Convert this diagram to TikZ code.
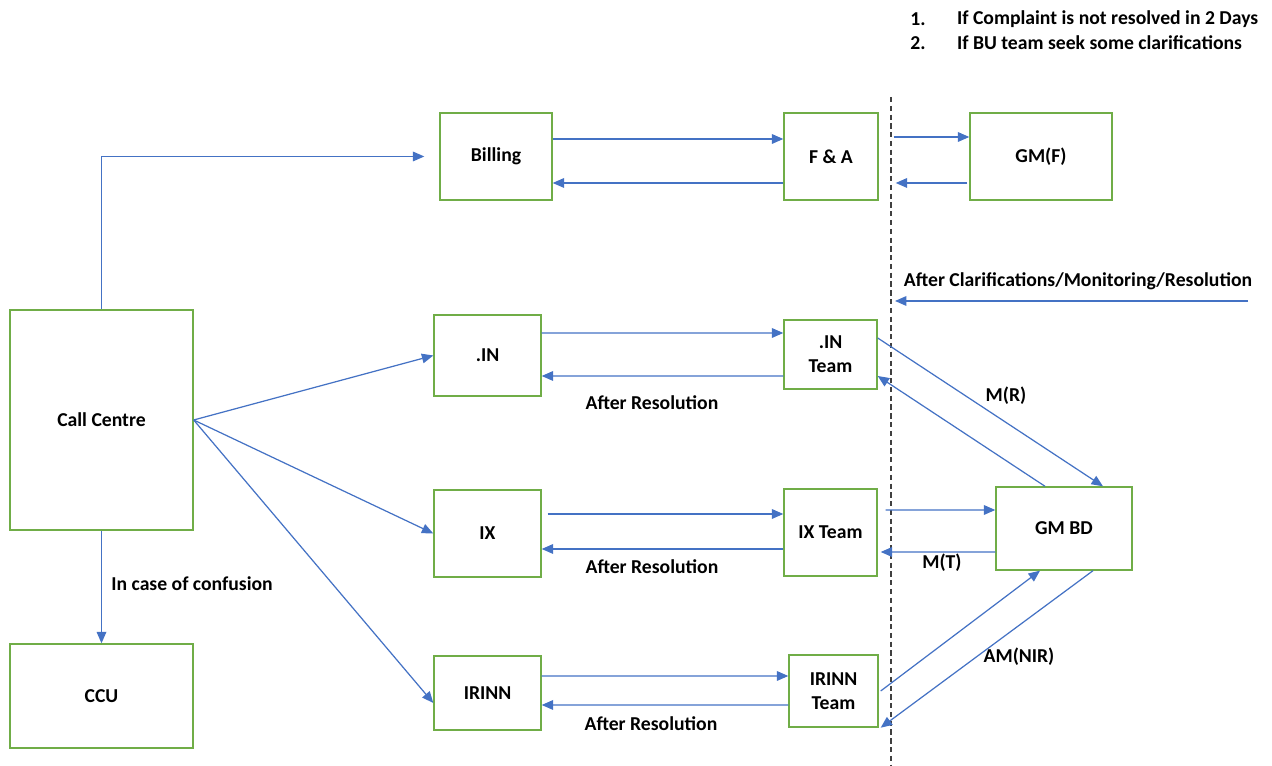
\documentclass[tikz,border=0pt]{standalone}
\usepackage{fontspec}
\setmainfont{Carlito}
\usetikzlibrary{arrows.meta,calc}
\definecolor{boxgreen}{RGB}{112,173,71}
\definecolor{flowblue}{RGB}{68,114,196}
\newcommand\diagfont{\fontsize{11.2}{13.6}\selectfont\bfseries}
\tikzset{
	unit/.style={draw=boxgreen, line width=0.8pt, font=\diagfont, align=center, inner sep=0pt},
	flow/.style={draw=flowblue, line width=0.7pt, -{Triangle[length=6.5pt,width=5.5pt]}},
	lbl/.style={font=\diagfont, inner sep=1pt}
}
\begin{document}
\begin{tikzpicture}[x=0.02cm, y=0.02cm]
			%%%%% START %%%%%
			\useasboundingbox (0, 0) rectangle (1272, 766);
			
			\node[unit, minimum width=3.66cm, minimum height=4.4cm] (cc) at (101.5, 346) {Call Centre};
			\node[unit, minimum width=3.66cm, minimum height=2.08cm] (ccu) at (101.5, 70) {CCU};
			
			\node[unit, minimum width=2.24cm, minimum height=1.74cm] (billing) at (496, 609.5) {Billing};
			\node[unit, minimum width=1.88cm, minimum height=1.74cm] (fa) at (831, 609.5) {F \& A};
			\node[unit, minimum width=2.84cm, minimum height=1.74cm] (gmf) at (1041, 609.5) {GM(F)};
			
			\node[unit, minimum width=2.14cm, minimum height=1.62cm] (in) at (487.5, 410.5) {.IN};
			\node[unit, minimum width=1.86cm, minimum height=1.38cm] (inteam) at (830.5, 411.5) {.IN\\Team};
			
			\node[unit, minimum width=2.14cm, minimum height=1.74cm] (ix) at (487.5, 232.5) {IX};
			\node[unit, minimum width=1.86cm, minimum height=1.74cm] (ixteam) at (830.5, 233.5) {IX Team};
			
			\node[unit, minimum width=2.14cm, minimum height=1.48cm] (irinn) at (487.5, 73) {IRINN};
			\node[unit, minimum width=1.78cm, minimum height=1.44cm] (irinnteam) at (833.5, 75) {IRINN\\Team};
			
			\node[unit, minimum width=2.72cm, minimum height=1.66cm] (gmbd) at (1064, 237.5) {GM BD};
			
			% note list
			\node[lbl] (n1) at (918, 747) {1.};
			\node[lbl, anchor=west] (t1) at (955, 747) {If Complaint is not resolved in 2 Days};
			\node[lbl] (n2) at (918, 723) {2.};
			\node[lbl, anchor=west] (t2) at (955, 723) {If BU team seek some clarifications};
			
			% boundary
			\draw[black!75, line width=0.8pt, dash pattern=on 3pt off 2pt] (891, 669) -- (891, 0);
			
			% call centre
			\draw[flow] (cc.north) |- ([xshift=-0.3cm]billing.west);
			\draw[flow] (cc.east) -- (in.west);
			\draw[flow] (cc.east) -- (ix.west);
			\draw[flow] (cc.east) -- ([yshift=-0.2cm]irinn.west);
			\draw[flow] (cc.south) -- (ccu.north) node[lbl, pos=0.47, anchor=west, xshift=0.15cm] (conf) {In case of confusion};
			
			% billing
			\draw[flow] ([yshift=0.35cm]billing.east) -- ([yshift=0.35cm]fa.west);
			\draw[flow] ([yshift=-0.53cm]fa.west) -- ([yshift=-0.53cm]billing.east);
			\draw[flow] ([xshift=0.3cm, yshift=0.39cm]fa.east) -- ([yshift=0.39cm]gmf.west);
			\draw[flow] ([xshift=-0.04cm, yshift=-0.53cm]gmf.west) -- ([xshift=0.34cm, yshift=-0.53cm]fa.east);
			
			% clarifications
			\coordinate (clarR) at (1248, 465);
			\coordinate (clarL) at (895, 465);
			\draw[flow] (clarR) -- (clarL);
			\node[lbl] (clar) at (1078, 485) {After Clarifications/Monitoring/Resolution};
			
			% .IN
			\draw[flow] ([yshift=0.45cm]in.east) -- ([yshift=0.43cm]inteam.west);
			\draw[flow] ([yshift=-0.43cm]inteam.west) -- ([yshift=-0.41cm]in.east);
			\node[lbl] (res1) at (652, 363) {After Resolution};
			
			% IX
			\draw[flow] ([xshift=0.12cm, yshift=0.39cm]ix.east) -- ([yshift=0.37cm]ixteam.west);
			\draw[flow] ([yshift=-0.33cm]ixteam.west) -- ([yshift=-0.31cm]ix.east);
			\node[lbl] (res2) at (652, 199) {After Resolution};
			
			% IRINN
			\draw[flow] ([yshift=0.34cm]irinn.east) -- ([yshift=0.30cm]irinnteam.west);
			\draw[flow] ([yshift=-0.28cm]irinnteam.west) -- ([yshift=-0.24cm]irinn.east);
			\node[lbl] (res3) at (651, 42) {After Resolution};
			
			% GM BD
			\draw[flow] ([yshift=0.33cm]inteam.east) -- ([xshift=0.78cm]gmbd.north);
			\draw[flow] ([xshift=-0.38cm]gmbd.north) -- ([yshift=-0.43cm]inteam.east);
			\node[lbl] (mr) at (1006, 370) {M(R)};
			\draw[flow] ([xshift=0.16cm, yshift=0.45cm]ixteam.east) -- ([yshift=0.37cm]gmbd.west);
			\draw[flow] ([yshift=-0.47cm]gmbd.west) -- ([xshift=0.06cm, yshift=-0.39cm]ixteam.east);
			\node[lbl] (mt) at (942, 203) {M(T)};
			\draw[flow] ([xshift=0.04cm]irinnteam.east) -- ([xshift=-0.48cm]gmbd.south);
			\draw[flow] ([xshift=0.58cm]gmbd.south) -- ([xshift=0.04cm]irinnteam.south east);
			\node[lbl] (amnir) at (1019, 109) {AM(NIR)};
			
			%%%%% END %%%%%
\end{tikzpicture}
\end{document}
